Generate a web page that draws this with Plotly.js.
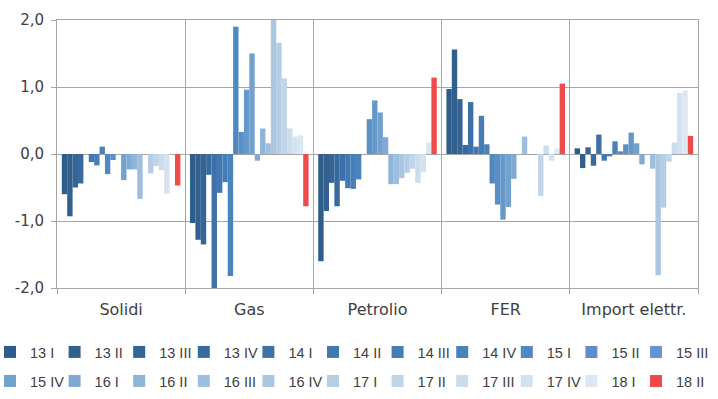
<!DOCTYPE html>
<html>
<head>
<meta charset="utf-8">
<script src="https://cdn.plot.ly/plotly-3.0.1.min.js"></script>
<style>
  html, body { margin: 0; padding: 0; background: #ffffff; }
  #chart { width: 718px; height: 399px; }
</style>
</head>
<body>
<div id="chart"></div>
<script>
// Energy sources on the category axis
const categories = ['Solidi', 'Gas', 'Petrolio', 'FER', 'Import elettr.'];

// Quarterly/half-year periods, one bar series each
const periods = ['13 I', '13 II', '13 III', '13 IV', '14 I', '14 II', '14 III', '14 IV',
                 '15 I', '15 II', '15 III', '15 IV', '16 I', '16 II', '16 III', '16 IV',
                 '17 I', '17 II', '17 III', '17 IV', '18 I', '18 II'];

// Values per category, in period order
const solidi = [-0.60, -0.93, -0.50, -0.44, 0.00, -0.12, -0.17, 0.11, -0.30, -0.09, 0.00,
                -0.39, -0.23, -0.23, -0.67, 0.00, -0.29, -0.18, -0.24, -0.59, 0.00, -0.47];
const gas = [-1.03, -1.28, -1.35, -0.31, -2.03, -0.58, -0.42, -1.82, 1.90, 0.33, 0.96,
             1.50, -0.10, 0.38, 0.16, 2.00, 1.66, 1.13, 0.38, 0.26, 0.28, -0.78];
const petrolio = [-1.60, -0.85, -0.43, -0.78, -0.40, -0.51, -0.52, -0.38, 0.00, 0.52, 0.80,
                  0.62, 0.25, -0.45, -0.45, -0.36, -0.28, -0.22, -0.43, -0.27, 0.17, 1.14];
const fer = [0.97, 1.56, 0.82, 0.135, 0.775, 0.11, 0.57, 0.145, -0.44, -0.755, -0.98,
             -0.79, -0.37, 0.00, 0.26, 0.00, 0.00, -0.625, 0.125, -0.10, 0.085, 1.05];
const importElettr = [0.085, -0.21, 0.10, -0.175, 0.29, -0.10, -0.035, 0.19, 0.04, 0.145, 0.32,
                      0.16, -0.155, 0.00, -0.22, -1.81, -0.80, -0.115, 0.17, 0.91, 0.95, 0.27];

// Y axis ticks
const yTickVals = [-2, -1, 0, 1, 2];
const yTickText = ['-2,0', '-1,0', '0,0', '1,0', '2,0'];

// Blue ramp from dark to light, last period highlighted in red
const seriesColors = ['#2f5d8a', '#325f8e', '#356596', '#386a9e', '#3d71a8', '#4278b2',
                      '#467db7', '#4a82bc', '#5088c0', '#5a90c5', '#6598ca', '#72a1ce',
                      '#80aad3', '#8fb4d8', '#9dbedd', '#aac6e1', '#b6cee5', '#c1d5e9',
                      '#cbdcec', '#d4e2ef', '#dde7f2', '#ef4b4b'];

const byCategory = [solidi, gas, petrolio, fer, importElettr];

// Legend is laid out as two rows of 11 entries; each row is split into
// two legend blocks so that entries keep an even pitch without wrapping.
const plotLeft = 57, plotWidth = 641;
const perRow = 11;
const blocks = [
  { name: 'legend',  from: 0,  to: 6,  row: 0 },
  { name: 'legend2', from: 6,  to: 11, row: 0 },
  { name: 'legend3', from: 11, to: 17, row: 1 },
  { name: 'legend4', from: 17, to: 22, row: 1 }
];
const legendStartPx = -10;
const legendPitchPx = 64.6;
const rowCenterPx = [352, 381];

function blockOf(i) {
  return blocks.find(b => i >= b.from && i < b.to);
}

const traces = periods.map((p, i) => {
  const b = blockOf(i);
  const t = {
    type: 'bar',
    name: p,
    x: categories,
    y: byCategory.map(arr => arr[i]),
    marker: { color: seriesColors[i], line: { width: 0 } },
    legend: b.name,
    hoverinfo: 'skip'
  };
  // the last entry of a block gets room for its full label
  if (i === b.to - 1) t.legendwidth = 45;
  return t;
});

const gridGrey = '#a6a6a6';
const plotTop = 20, plotHeight = 268;

const layout = {
  width: 718,
  height: 399,
  margin: { l: plotLeft, r: 718 - plotLeft - plotWidth, t: plotTop, b: 399 - plotTop - plotHeight, autoexpand: false },
  paper_bgcolor: '#ffffff',
  plot_bgcolor: '#ffffff',
  font: { family: 'DejaVu Sans', size: 16, color: '#404040' },
  barmode: 'group',
  bargap: 0.075,
  bargroupgap: 0,
  showlegend: true,
  xaxis: {
    type: 'category',
    tickson: 'boundaries',
    showgrid: true,
    gridcolor: gridGrey,
    gridwidth: 1,
    ticks: 'outside',
    ticklen: 5,
    tickcolor: gridGrey,
    showline: true,
    linecolor: gridGrey,
    linewidth: 1,
    mirror: true,
    ticklabelstandoff: 7,
    fixedrange: true
  },
  yaxis: {
    range: [-2, 2],
    tickmode: 'array',
    tickvals: yTickVals,
    ticktext: yTickText,
    tickfont: { size: 15 },
    showgrid: true,
    gridcolor: gridGrey,
    gridwidth: 1,
    zeroline: true,
    zerolinecolor: gridGrey,
    zerolinewidth: 1,
    ticks: 'outside',
    ticklen: 5,
    tickcolor: gridGrey,
    showline: true,
    linecolor: gridGrey,
    linewidth: 1,
    mirror: true,
    ticklabelstandoff: 4,
    fixedrange: true
  }
};

blocks.forEach(b => {
  const col = b.from - b.row * perRow;
  const px = legendStartPx + col * legendPitchPx;
  layout[b.name] = {
    orientation: 'h',
    x: (px - plotLeft) / plotWidth,
    xanchor: 'left',
    y: (plotTop + plotHeight - rowCenterPx[b.row]) / plotHeight,
    yanchor: 'middle',
    entrywidth: legendPitchPx - 45,
    entrywidthmode: 'pixels',
    traceorder: 'normal',
    bgcolor: 'rgba(0,0,0,0)',
    font: { family: 'Liberation Sans, Arial, sans-serif', size: 14.5, color: '#404040' }
  };
});

Plotly.newPlot('chart', traces, layout, { displayModeBar: false, staticPlot: true });
</script>
</body>
</html>
